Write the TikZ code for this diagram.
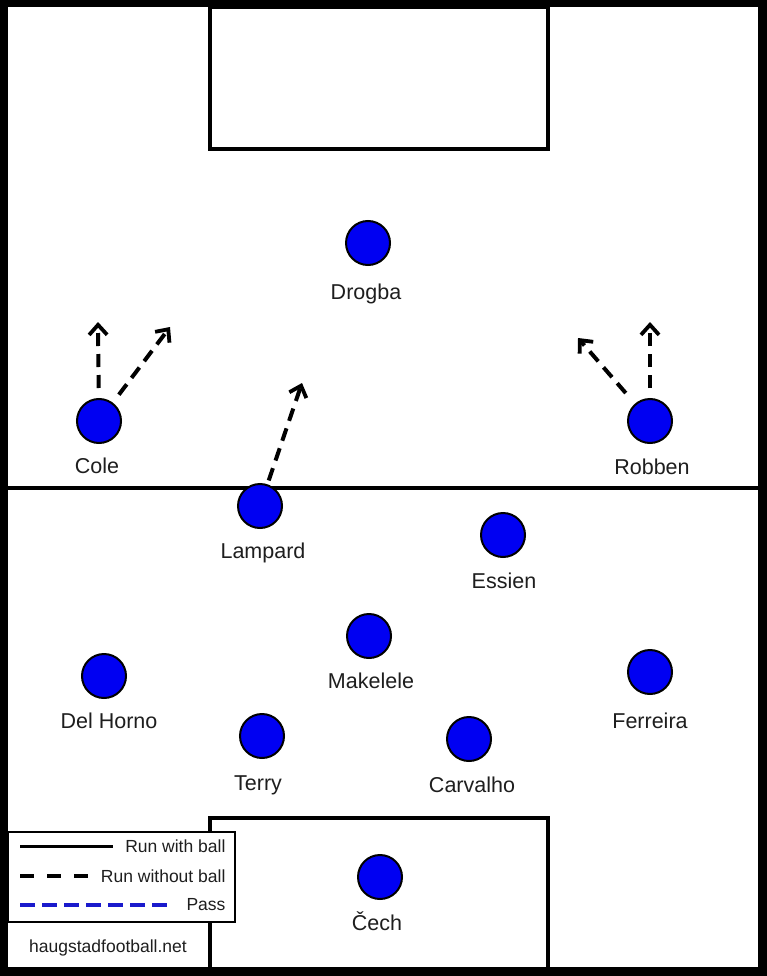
\documentclass[tikz,border=0pt]{standalone}
\usepackage{fontspec}
\setmainfont{Liberation Sans}
\usetikzlibrary{arrows.meta,positioning}
\definecolor{Kit}{HTML}{0000F2}
\definecolor{Ink}{HTML}{1E1E1E}
\definecolor{PassBlue}{HTML}{1A1ACC}
\tikzset{player/.style={circle,draw=black,line width=2pt,fill=Kit,minimum size=44pt,inner sep=0pt},pname/.style={anchor=base,text=Ink,font=\fontsize{21.5}{25}\selectfont},pitch/.style={line width=4pt,draw=black},runoff/.style={-{Straight Barb[length=10pt,width=18pt,line width=3.8pt]},line width=4pt,dash pattern=on 13pt off 8pt},key/.style={anchor=east,text=Ink,font=\fontsize{17.5}{21}\selectfont}}

\begin{document}
\begin{tikzpicture}[x=1pt,y=-1pt]
\useasboundingbox (0,0) rectangle (767,976);
% frame and pitch
\fill[black] (0,0) rectangle (767,976);
\fill[white] (8,7) rectangle (758,967);
\draw[pitch] (210,7) rectangle (548,149);
\draw[pitch] (8,488) -- (758,488);
\draw[pitch] (210,967) -- (210,818) -- (548,818) -- (548,967);
% players
\node[player] (drogba) at (368,243) {};
\node[player] (cole) at (99,421) {};
\node[player] (robben) at (650,421) {};
\node[player] (lampard) at (260,506) {};
\node[player] (essien) at (503,535) {};
\node[player] (makelele) at (369,636) {};
\node[player] (delhorno) at (104,676) {};
\node[player] (ferreira) at (650,672) {};
\node[player] (terry) at (262,736) {};
\node[player] (carvalho) at (469,739) {};
\node[player] (cech) at (380,877) {};
\node[pname] (drogbaname) at (366,299) {Drogba};
\node[pname] (colename) at (97,473) {Cole};
\node[pname] (robbenname) at (652,474) {Robben};
\node[pname] (lampardname) at (263,558) {Lampard};
\node[pname] (essienname) at (504,588) {Essien};
\node[pname] (makelelename) at (371,688) {Makelele};
\node[pname] (delhornoname) at (109,728) {Del Horno};
\node[pname] (ferreiraname) at (650,728) {Ferreira};
\node[pname] (terryname) at (258,790) {Terry};
\node[pname] (carvalhoname) at (472,792) {Carvalho};
\node[pname] (cechname) at (377,930) {Čech};
% runs without ball
\coordinate (coleup) at (98,322);
\coordinate (coleout) at (170,327);
\coordinate (robbenup) at (650,322);
\coordinate (robbenin) at (578,338);
\coordinate (lampardrun) at (302,383);
\draw[runoff,shorten <=10pt] (cole) -- (coleup);
\draw[runoff,shorten <=10pt] (cole) -- (coleout);
\draw[runoff,shorten <=10pt] (robben) -- (robbenup);
\draw[runoff,shorten <=14pt] (robben) -- (robbenin);
\draw[runoff,shorten <=4pt] (lampard) -- (lampardrun);
% legend
\draw[fill=white,line width=2pt] (8,832) rectangle (235,922);
\draw[line width=3pt] (20,846) -- (113,846);
\draw[line width=4.5pt,dash pattern=on 14pt off 13pt] (20,876) -- (90,876);
\draw[line width=3.5pt,draw=PassBlue,dash pattern=on 15pt off 7pt] (20,905) -- (167,905);
\node[key] (withball) at (229,846) {Run with ball};
\node[key] (withoutball) at (229,876) {Run without ball};
\node[key] (pass) at (229,905) {Pass};
\node[text=Ink,font=\fontsize{17.5}{21}\selectfont] (site) at (108,948) {haugstadfootball.net};
\end{tikzpicture}
\end{document}
